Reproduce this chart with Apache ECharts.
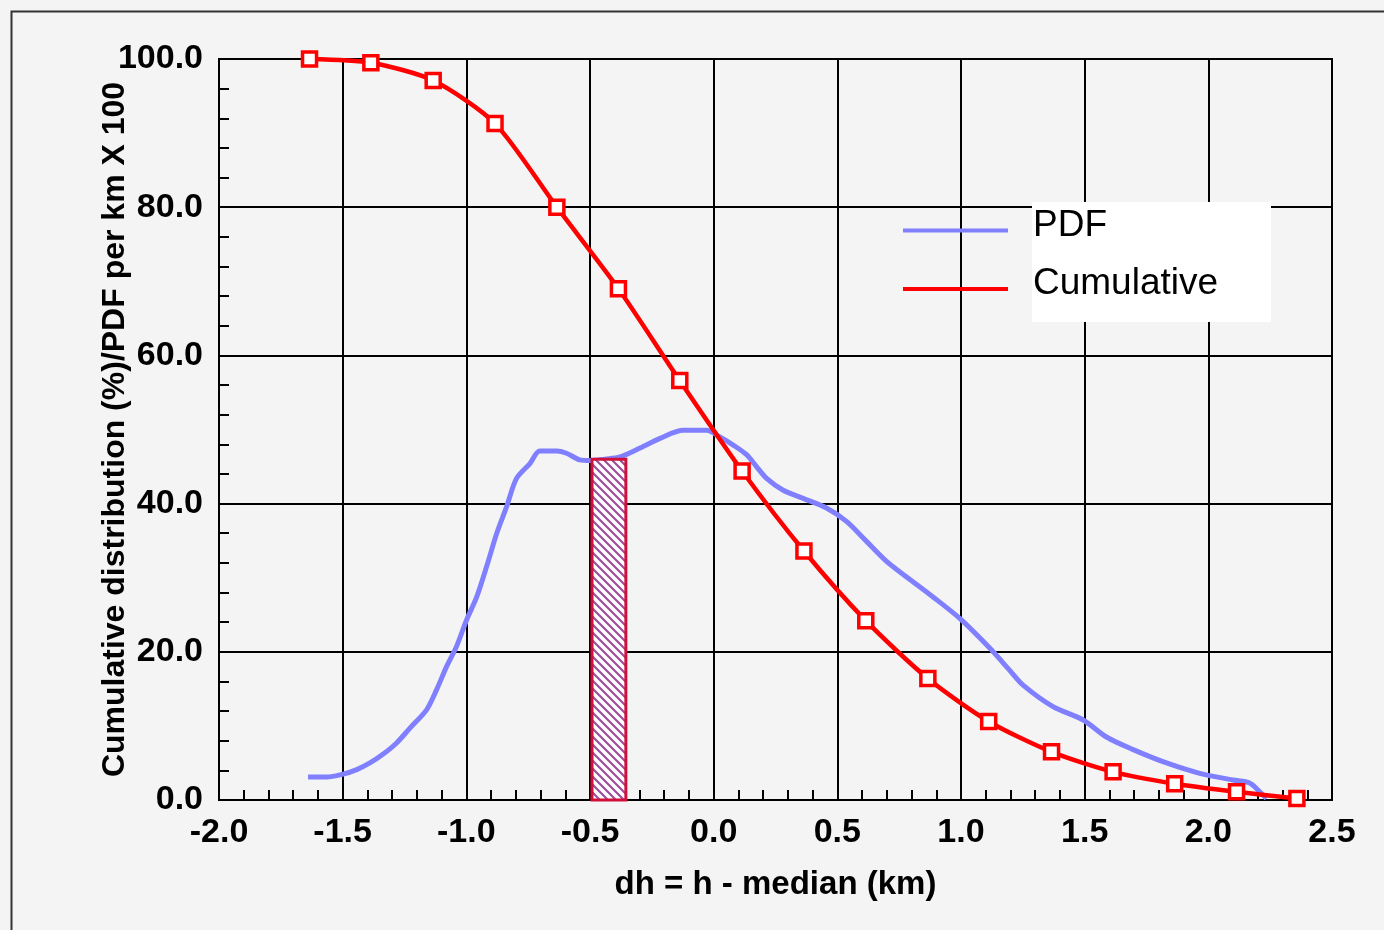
<!DOCTYPE html>
<html>
<head>
<meta charset="utf-8">
<script src="https://cdn.jsdelivr.net/npm/echarts@6/dist/echarts.min.js"></script>
<style>
html,body{margin:0;padding:0;background:#f4f4f4;}
#main{width:1384px;height:930px;}
</style>
</head>
<body>
<div id="main"></div>
<script>
// ---- data ----
var xTicks = [-2.0, -1.5, -1.0, -0.5, 0.0, 0.5, 1.0, 1.5, 2.0, 2.5];
var yTicks = [0, 20, 40, 60, 80, 100];

var pdfX = [-1.640,-1.565,-1.498,-1.443,-1.390,-1.336,-1.282,-1.228,-1.160,-1.120,-1.080,-1.040,-0.999,-0.958,-0.918,-0.877,-0.837,-0.797,-0.743,-0.703,-0.635,-0.595,-0.541,-0.500,-0.440,-0.379,-0.298,-0.217,-0.123,-0.029,0.025,0.079,0.133,0.173,0.214,0.281,0.362,0.456,0.537,0.618,0.699,0.780,0.887,0.995,1.116,1.197,1.251,1.372,1.494,1.588,1.696,1.831,1.965,2.100,2.167,2.208,2.235];
var pdfY = [3.1,3.1,3.5,4.1,5.0,6.2,7.7,9.7,12.2,14.9,18.0,20.7,24.3,27.4,31.5,36.0,39.6,43.4,45.4,47.1,47.1,46.8,45.9,45.8,46.0,46.3,47.5,48.8,49.9,49.9,49.0,47.9,46.6,45.0,43.4,41.8,40.7,39.4,37.6,34.9,32.2,30.1,27.4,24.5,20.5,17.5,15.5,12.6,10.8,8.5,6.8,5.0,3.6,2.7,2.3,1.1,0.2];

var cumX = [-1.634,-1.386,-1.134,-0.884,-0.634,-0.385,-0.137,0.115,0.365,0.615,0.866,1.112,1.366,1.615,1.864,2.114,2.358];
var cumY = [100.0,99.5,97.1,91.3,80.0,69.0,56.6,44.4,33.6,24.2,16.4,10.6,6.5,3.8,2.2,1.1,0.2];

var binStart = [-0.492];
var binEnd = [-0.355];
var binHeight = [46.0];

var seriesNames = ['PDF', 'Cumulative'];
var seriesColors = ['#8080ff', '#ff0000'];
var xName = 'dh = h - median (km)';
var yName = 'Cumulative distribution (%)/PDF per km X 100';

// ---- build ----
function zip(a, b) { return a.map(function (v, i) { return [v, b[i]]; }); }

var pat = document.createElement('canvas');
pat.width = 8; pat.height = 8;
(function () {
  var c = pat.getContext('2d');
  c.fillStyle = '#ffffff'; c.fillRect(0, 0, 8, 8);
  c.strokeStyle = '#9b4f9c'; c.lineWidth = 2.2;
  c.beginPath();
  c.moveTo(-2, -2); c.lineTo(10, 10);
  c.moveTo(-10, -2); c.lineTo(2, 10);
  c.moveTo(6, -2); c.lineTo(18, 10);
  c.stroke();
})();

var chart = echarts.init(document.getElementById('main'), null, { renderer: 'canvas' });

var FONT = 'Liberation Sans, Arial, sans-serif';
var tickFont = { fontFamily: FONT, fontWeight: 'bold', fontSize: 34, color: '#000' };

var option = {
  backgroundColor: '#f4f4f4',
  animation: false,
  graphic: [
    { type: 'rect', left: 9, top: 9, z: -10, silent: true,
      shape: { width: 1420, height: 960 },
      style: { fill: 'none', stroke: '#333', lineWidth: 2 } },
    { type: 'rect', left: 1032, top: 202, z: 50, silent: true,
      shape: { width: 239, height: 120 },
      style: { fill: '#ffffff' } }
  ],
  legend: {
    orient: 'vertical',
    left: 903,
    top: 207,
    padding: 0,
    z: 60,
    itemWidth: 105,
    itemHeight: 4,
    itemGap: 10,
    icon: 'rect',
    data: seriesNames.map(function (n, i) {
      return { name: n, itemStyle: { color: seriesColors[i], borderWidth: 0 } };
    }),
    formatter: '{t|{name}}\n{s| }',
    textStyle: {
      fontFamily: FONT, fontSize: 37, color: '#000', padding: [0, 0, 0, 20],
      rich: {
        t: { fontFamily: FONT, fontSize: 37, color: '#000', lineHeight: 40 },
        s: { fontSize: 8, height: 10, lineHeight: 10 }
      }
    }
  },
  grid: {
    left: 219, right: 52, top: 59, bottom: 130,
    outerBoundsMode: 'none', containLabel: false,
    show: true, borderColor: '#000', borderWidth: 2, backgroundColor: 'transparent'
  },
  xAxis: {
    type: 'value', min: xTicks[0], max: xTicks[xTicks.length - 1], interval: 0.5,
    name: xName, nameLocation: 'middle', nameGap: 68, nameMoveOverlap: false,
    nameTextStyle: { fontFamily: FONT, fontWeight: 'bold', fontSize: 33, color: '#000' },
    axisLine: { onZero: false, lineStyle: { color: '#000', width: 2 } },
    axisTick: { show: true, inside: true, length: 10, lineStyle: { color: '#000', width: 2 } },
    minorTick: { show: true, splitNumber: 5, length: 10, lineStyle: { color: '#000', width: 2 } },
    splitLine: { show: true, lineStyle: { color: '#000', width: 2 } },
    axisLabel: Object.assign({ margin: 16, formatter: function (v) { return v.toFixed(1); } }, tickFont)
  },
  yAxis: {
    type: 'value', min: yTicks[0], max: yTicks[yTicks.length - 1], interval: 20,
    name: yName, nameLocation: 'middle', nameGap: 88, nameRotate: 90, nameMoveOverlap: false,
    nameTextStyle: { fontFamily: FONT, fontWeight: 'bold', fontSize: 32, color: '#000' },
    axisLine: { onZero: false, lineStyle: { color: '#000', width: 2 } },
    axisTick: { show: true, inside: true, length: 10, lineStyle: { color: '#000', width: 2 } },
    minorTick: { show: true, splitNumber: 5, length: 10, lineStyle: { color: '#000', width: 2 } },
    splitLine: { show: true, lineStyle: { color: '#000', width: 2 } },
    axisLabel: Object.assign({ margin: 16, formatter: function (v) { return v.toFixed(1); } }, tickFont)
  },
  series: [
    {
      name: seriesNames[0], type: 'line', data: zip(pdfX, pdfY),
      smooth: 0.3, showSymbol: false, symbol: 'none', z: 3,
      lineStyle: { color: seriesColors[0], width: 5 },
      itemStyle: { color: seriesColors[0] }
    },
    {
      name: seriesNames[1], type: 'line', data: zip(cumX, cumY),
      smooth: 0.25, symbol: 'rect', symbolSize: 14, z: 4, clip: false,
      lineStyle: { color: seriesColors[1], width: 4.5 },
      itemStyle: { color: '#ffffff', borderColor: seriesColors[1], borderWidth: 3.5 }
    },
    {
      name: 'bin', type: 'custom', z: 5,
      data: binStart.map(function (s, i) { return [s, binEnd[i], binHeight[i]]; }),
      renderItem: function (params, api) {
        var p0 = api.coord([api.value(0), api.value(2)]);
        var p1 = api.coord([api.value(1), 0]);
        return {
          type: 'rect',
          shape: { x: p0[0], y: p0[1], width: p1[0] - p0[0], height: p1[1] - p0[1] },
          style: { fill: { image: pat, repeat: 'repeat' }, stroke: '#d0103a', lineWidth: 3 }
        };
      }
    }
  ]
};
chart.setOption(option);
</script>
</body>
</html>
